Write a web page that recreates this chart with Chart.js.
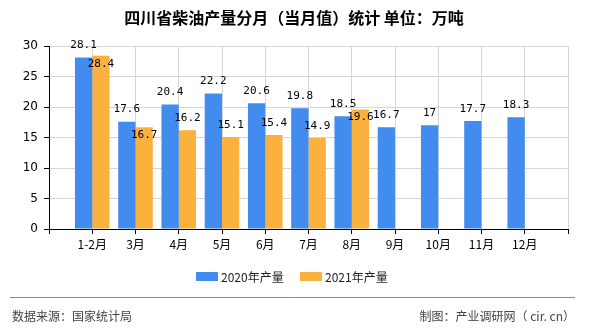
<!DOCTYPE html>
<html>
<head>
    <title>四川省柴油产量分月（当月值）统计</title>
    <script src="https://cdn.jsdelivr.net/npm/chart.js"></script>
    <style>
        body { margin: 0; background: #fff; }
    </style>
</head>
<body>
    <canvas id="barChart" width="590" height="330"></canvas>

    <script>
        // data
        const months = ['1-2月', '3月', '4月', '5月', '6月', '7月', '8月', '9月', '10月', '11月', '12月'];
        const output2020 = [28.1, 17.6, 20.4, 22.2, 20.6, 19.8, 18.5, 16.7, 17, 17.7, 18.3];
        const output2021 = [28.4, 16.7, 16.2, 15.1, 15.4, 14.9, 19.6, null, null, null, null];
        const seriesNames = ['2020年产量', '2021年产量'];
        const yTicks = [0, 5, 10, 15, 20, 25, 30];

        const BLUE = '#418cee';
        const ORANGE = '#fbb13e';
        const CJK = '"Noto Sans CJK SC", "Noto Sans", sans-serif';

        // the axis has an empty slot on each side, so pad the labels
        const labels = [''].concat(months, ['']);
        const pad = arr => [null].concat(arr, [null]);

        // value labels above bars; 2021 label drops inside the bar when it would hit the 2020 one
        const valueLabels = {
            id: 'valueLabels',
            afterDatasetsDraw(chart) {
                const ctx = chart.ctx;
                ctx.save();
                ctx.font = '11px "DejaVu Sans Mono", monospace';
                ctx.fillStyle = '#000';
                ctx.textAlign = 'center';
                ctx.textBaseline = 'middle';
                const m0 = chart.getDatasetMeta(0);
                const m1 = chart.getDatasetMeta(1);
                const firstY = [];
                m0.data.forEach((el, i) => {
                    const v = chart.data.datasets[0].data[i];
                    if (v == null) return;
                    const y = el.y - 12;
                    firstY[i] = y;
                    ctx.fillText(String(v), el.x, y);
                });
                m1.data.forEach((el, i) => {
                    const v = chart.data.datasets[1].data[i];
                    if (v == null) return;
                    let y = el.y - 12;
                    if (firstY[i] != null && Math.abs(y - firstY[i]) < 13) y = el.y + 8;
                    ctx.fillText(String(v), el.x, y);
                });
                ctx.restore();
            }
        };

        // title, legend and footer
        const decorations = {
            id: 'decorations',
            afterDraw(chart) {
                const ctx = chart.ctx;
                ctx.save();
                ctx.fillStyle = '#000';
                ctx.textAlign = 'center';
                ctx.textBaseline = 'middle';
                ctx.font = 'bold 16px ' + CJK;
                ctx.fillText('四川省柴油产量分月（当月值）统计 单位：万吨', 294, 18);

                // legend
                ctx.font = '12px ' + CJK;
                ctx.textAlign = 'left';
                const colors = [BLUE, ORANGE];
                const starts = [196, 300];
                seriesNames.forEach((name, k) => {
                    ctx.fillStyle = colors[k];
                    ctx.fillRect(starts[k], 272, 22, 9);
                    ctx.fillStyle = '#222';
                    ctx.fillText(name, starts[k] + 25, 277);
                });

                // footer
                ctx.strokeStyle = '#888';
                ctx.lineWidth = 1;
                ctx.beginPath();
                ctx.moveTo(10, 297.5);
                ctx.lineTo(575, 297.5);
                ctx.stroke();
                ctx.fillStyle = '#444';
                ctx.font = '12px ' + CJK;
                ctx.fillText('数据来源：国家统计局', 12, 316);
                ctx.textAlign = 'right';
                ctx.fillText('制图：产业调研网（ cir. cn）', 575, 316);
                ctx.restore();
            }
        };

        const ctx = document.getElementById('barChart').getContext('2d');
        new Chart(ctx, {
            type: 'bar',
            data: {
                labels: labels,
                datasets: [
                    { label: seriesNames[0], data: pad(output2020), backgroundColor: BLUE },
                    { label: seriesNames[1], data: pad(output2021), backgroundColor: ORANGE }
                ]
            },
            options: {
                responsive: false,
                animation: false,
                devicePixelRatio: 1,
                layout: { padding: { left: 0, right: 22, top: 46, bottom: 0 } },
                datasets: { bar: { categoryPercentage: 0.8, barPercentage: 1.0 } },
                plugins: {
                    legend: { display: false },
                    tooltip: { enabled: false }
                },
                scales: {
                    x: {
                        offset: false,
                        grid: { color: '#d6d6d6', tickColor: '#000', tickLength: 5, offset: false },
                        border: { color: '#000', width: 1 },
                        ticks: {
                            color: '#000',
                            font: { size: 12, family: CJK },
                            maxRotation: 0,
                            autoSkip: false,
                            padding: 3
                        },
                        afterFit(scale) { scale.height = 101; }
                    },
                    y: {
                        min: 0,
                        max: 30,
                        afterBuildTicks(scale) { scale.ticks = yTicks.map(v => ({ value: v })); },
                        grid: { color: '#d6d6d6', tickColor: '#000', tickLength: 5 },
                        border: { color: '#000', width: 1 },
                        ticks: {
                            color: '#000',
                            font: { size: 12, family: '"DejaVu Sans", sans-serif' },
                            padding: 6
                        },
                        afterFit(scale) { scale.width = 49; }
                    }
                }
            },
            plugins: [valueLabels, decorations]
        });
    </script>
</body>
</html>
